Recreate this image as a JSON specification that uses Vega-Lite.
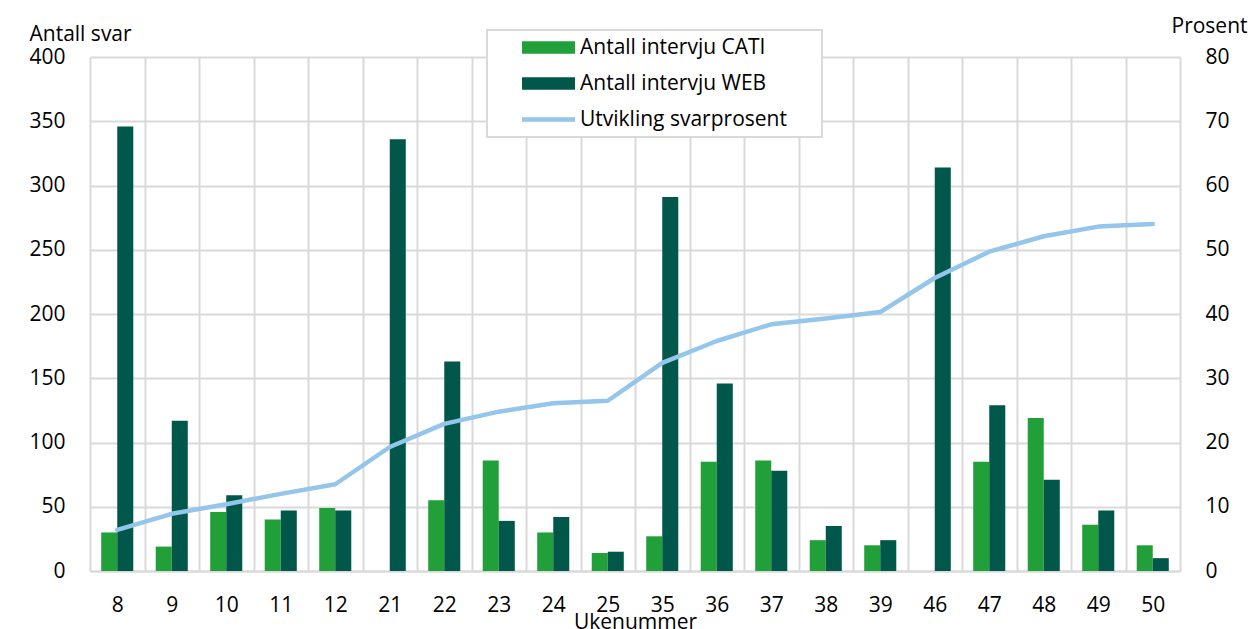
{
  "$schema": "https://vega.github.io/schema/vega-lite/v6.json",
  "width": 1090,
  "height": 514,
  "autosize": {"type": "none"},
  "padding": {"left": 90, "top": 57, "right": 72, "bottom": 58},
  "background": "white",
  "config": {
    "view": {"stroke": null},
    "font": "Open Sans",
    "axis": {"labelFont": "Open Sans", "titleFont": "Open Sans", "labelColor": "#000", "titleColor": "#000", "labelFontSize": 21, "titleFontSize": 21, "titleFontWeight": "normal"}
  },
  "datasets": {
    "bars": [
      {"uke": "8", "type": "Antall intervju CATI", "antall": 30},
      {"uke": "8", "type": "Antall intervju WEB", "antall": 346},
      {"uke": "9", "type": "Antall intervju CATI", "antall": 19},
      {"uke": "9", "type": "Antall intervju WEB", "antall": 117},
      {"uke": "10", "type": "Antall intervju CATI", "antall": 46},
      {"uke": "10", "type": "Antall intervju WEB", "antall": 59},
      {"uke": "11", "type": "Antall intervju CATI", "antall": 40},
      {"uke": "11", "type": "Antall intervju WEB", "antall": 47},
      {"uke": "12", "type": "Antall intervju CATI", "antall": 49},
      {"uke": "12", "type": "Antall intervju WEB", "antall": 47},
      {"uke": "21", "type": "Antall intervju CATI", "antall": 0},
      {"uke": "21", "type": "Antall intervju WEB", "antall": 336},
      {"uke": "22", "type": "Antall intervju CATI", "antall": 55},
      {"uke": "22", "type": "Antall intervju WEB", "antall": 163},
      {"uke": "23", "type": "Antall intervju CATI", "antall": 86},
      {"uke": "23", "type": "Antall intervju WEB", "antall": 39},
      {"uke": "24", "type": "Antall intervju CATI", "antall": 30},
      {"uke": "24", "type": "Antall intervju WEB", "antall": 42},
      {"uke": "25", "type": "Antall intervju CATI", "antall": 14},
      {"uke": "25", "type": "Antall intervju WEB", "antall": 15},
      {"uke": "35", "type": "Antall intervju CATI", "antall": 27},
      {"uke": "35", "type": "Antall intervju WEB", "antall": 291},
      {"uke": "36", "type": "Antall intervju CATI", "antall": 85},
      {"uke": "36", "type": "Antall intervju WEB", "antall": 146},
      {"uke": "37", "type": "Antall intervju CATI", "antall": 86},
      {"uke": "37", "type": "Antall intervju WEB", "antall": 78},
      {"uke": "38", "type": "Antall intervju CATI", "antall": 24},
      {"uke": "38", "type": "Antall intervju WEB", "antall": 35},
      {"uke": "39", "type": "Antall intervju CATI", "antall": 20},
      {"uke": "39", "type": "Antall intervju WEB", "antall": 24},
      {"uke": "46", "type": "Antall intervju CATI", "antall": 0},
      {"uke": "46", "type": "Antall intervju WEB", "antall": 314},
      {"uke": "47", "type": "Antall intervju CATI", "antall": 85},
      {"uke": "47", "type": "Antall intervju WEB", "antall": 129},
      {"uke": "48", "type": "Antall intervju CATI", "antall": 119},
      {"uke": "48", "type": "Antall intervju WEB", "antall": 71},
      {"uke": "49", "type": "Antall intervju CATI", "antall": 36},
      {"uke": "49", "type": "Antall intervju WEB", "antall": 47},
      {"uke": "50", "type": "Antall intervju CATI", "antall": 20},
      {"uke": "50", "type": "Antall intervju WEB", "antall": 10}
    ],
    "linje": [
      {"uke": "8", "prosent": 6.4},
      {"uke": "9", "prosent": 8.9},
      {"uke": "10", "prosent": 10.4},
      {"uke": "11", "prosent": 12.0},
      {"uke": "12", "prosent": 13.5},
      {"uke": "21", "prosent": 19.3},
      {"uke": "22", "prosent": 22.9},
      {"uke": "23", "prosent": 24.8},
      {"uke": "24", "prosent": 26.1},
      {"uke": "25", "prosent": 26.5},
      {"uke": "35", "prosent": 32.4},
      {"uke": "36", "prosent": 35.8},
      {"uke": "37", "prosent": 38.4},
      {"uke": "38", "prosent": 39.3},
      {"uke": "39", "prosent": 40.3},
      {"uke": "46", "prosent": 45.6},
      {"uke": "47", "prosent": 49.7},
      {"uke": "48", "prosent": 52.1},
      {"uke": "49", "prosent": 53.6},
      {"uke": "50", "prosent": 54.0}
    ]
  },
  "layer": [
    {
      "data": {"name": "bars"},
      "mark": {"type": "bar"},
      "encoding": {
        "x": {
          "field": "uke", "type": "nominal",
          "scale": {"domain": ["8","9","10","11","12","21","22","23","24","25","35","36","37","38","39","46","47","48","49","50"], "paddingInner": 0, "paddingOuter": 0},
          "axis": {"title": "Ukenummer", "labelAngle": 0, "ticks": false, "labelPadding": 23, "tickBand": "extent", "grid": true, "gridColor": "#d9d9d9", "gridWidth": 2, "domain": true, "domainColor": "#d9d9d9", "domainWidth": 2, "titleX": 545, "titleY": 57, "titleAlign": "center", "titleBaseline": "alphabetic"}
        },
        "xOffset": {"field": "type", "type": "nominal", "scale": {"paddingOuter": 0.7, "paddingInner": 0}},
        "y": {
          "field": "antall", "type": "quantitative",
          "scale": {"domain": [0, 400], "nice": false},
          "axis": {"title": "Antall svar", "orient": "left", "values": [0,50,100,150,200,250,300,350,400], "ticks": false, "labelPadding": 25, "domain": false, "grid": true, "gridColor": "#d9d9d9", "gridWidth": 2, "titleAngle": 0, "titleAlign": "left", "titleBaseline": "alphabetic", "titleX": -61, "titleY": -17}
        },
        "color": {
          "field": "type", "type": "nominal",
          "scale": {"domain": ["Antall intervju CATI", "Antall intervju WEB", "Utvikling svarprosent"], "range": ["#21a039", "#01574a", "#94c5ea"]},
          "legend": {
            "title": " ", "titleOrient": "right", "titleAngle": 0, "titleFontSize": 21, "titlePadding": 28, "titleColor": "white",
            "orient": "none", "legendX": 397, "legendY": -27,
            "fillColor": "white", "strokeColor": "#d9d9d9", "padding": 7,
            "labelFont": "Open Sans", "labelFontSize": 21, "labelColor": "#000", "labelLimit": 400, "labelOffset": 21,
            "symbolType": "M-2.65,-0.625H2.65V0.625H-2.65Z", "symbolSize": 400, "symbolOffset": 44, "rowPadding": 14,
            "symbolStrokeWidth": 0,
            "encode": {
              "legend": {"update": {"strokeWidth": {"value": 2}}},
              "symbols": {"update": {
                "shape": {"signal": "datum.value === 'Utvikling svarprosent' ? 'M-2.65,-0.225H2.65V0.225H-2.65Z' : 'M-2.65,-0.625H2.65V0.625H-2.65Z'"},
                "strokeWidth": {"value": 0},
                "fill": {"scale": "color", "field": "value"},
                "fillOpacity": {"value": 1}
              }}
            }
          }
        }
      }
    },
    {
      "data": {"name": "linje"},
      "mark": {"type": "line", "strokeWidth": 4.5, "strokeCap": "round", "strokeJoin": "round"},
      "encoding": {
        "x": {"field": "uke", "type": "nominal"},
        "y": {
          "field": "prosent", "type": "quantitative",
          "scale": {"domain": [0, 80], "nice": false},
          "axis": {"title": "Prosent", "orient": "right", "values": [0,10,20,30,40,50,60,70,80], "ticks": false, "labelPadding": 25, "domain": false, "grid": false, "titleAngle": 0, "titleAlign": "left", "titleBaseline": "alphabetic", "titleX": -9, "titleY": -25}
        },
        "color": {"datum": "Utvikling svarprosent"}
      }
    }
  ],
  "resolve": {"scale": {"y": "independent"}, "axis": {"y": "independent"}}
}
